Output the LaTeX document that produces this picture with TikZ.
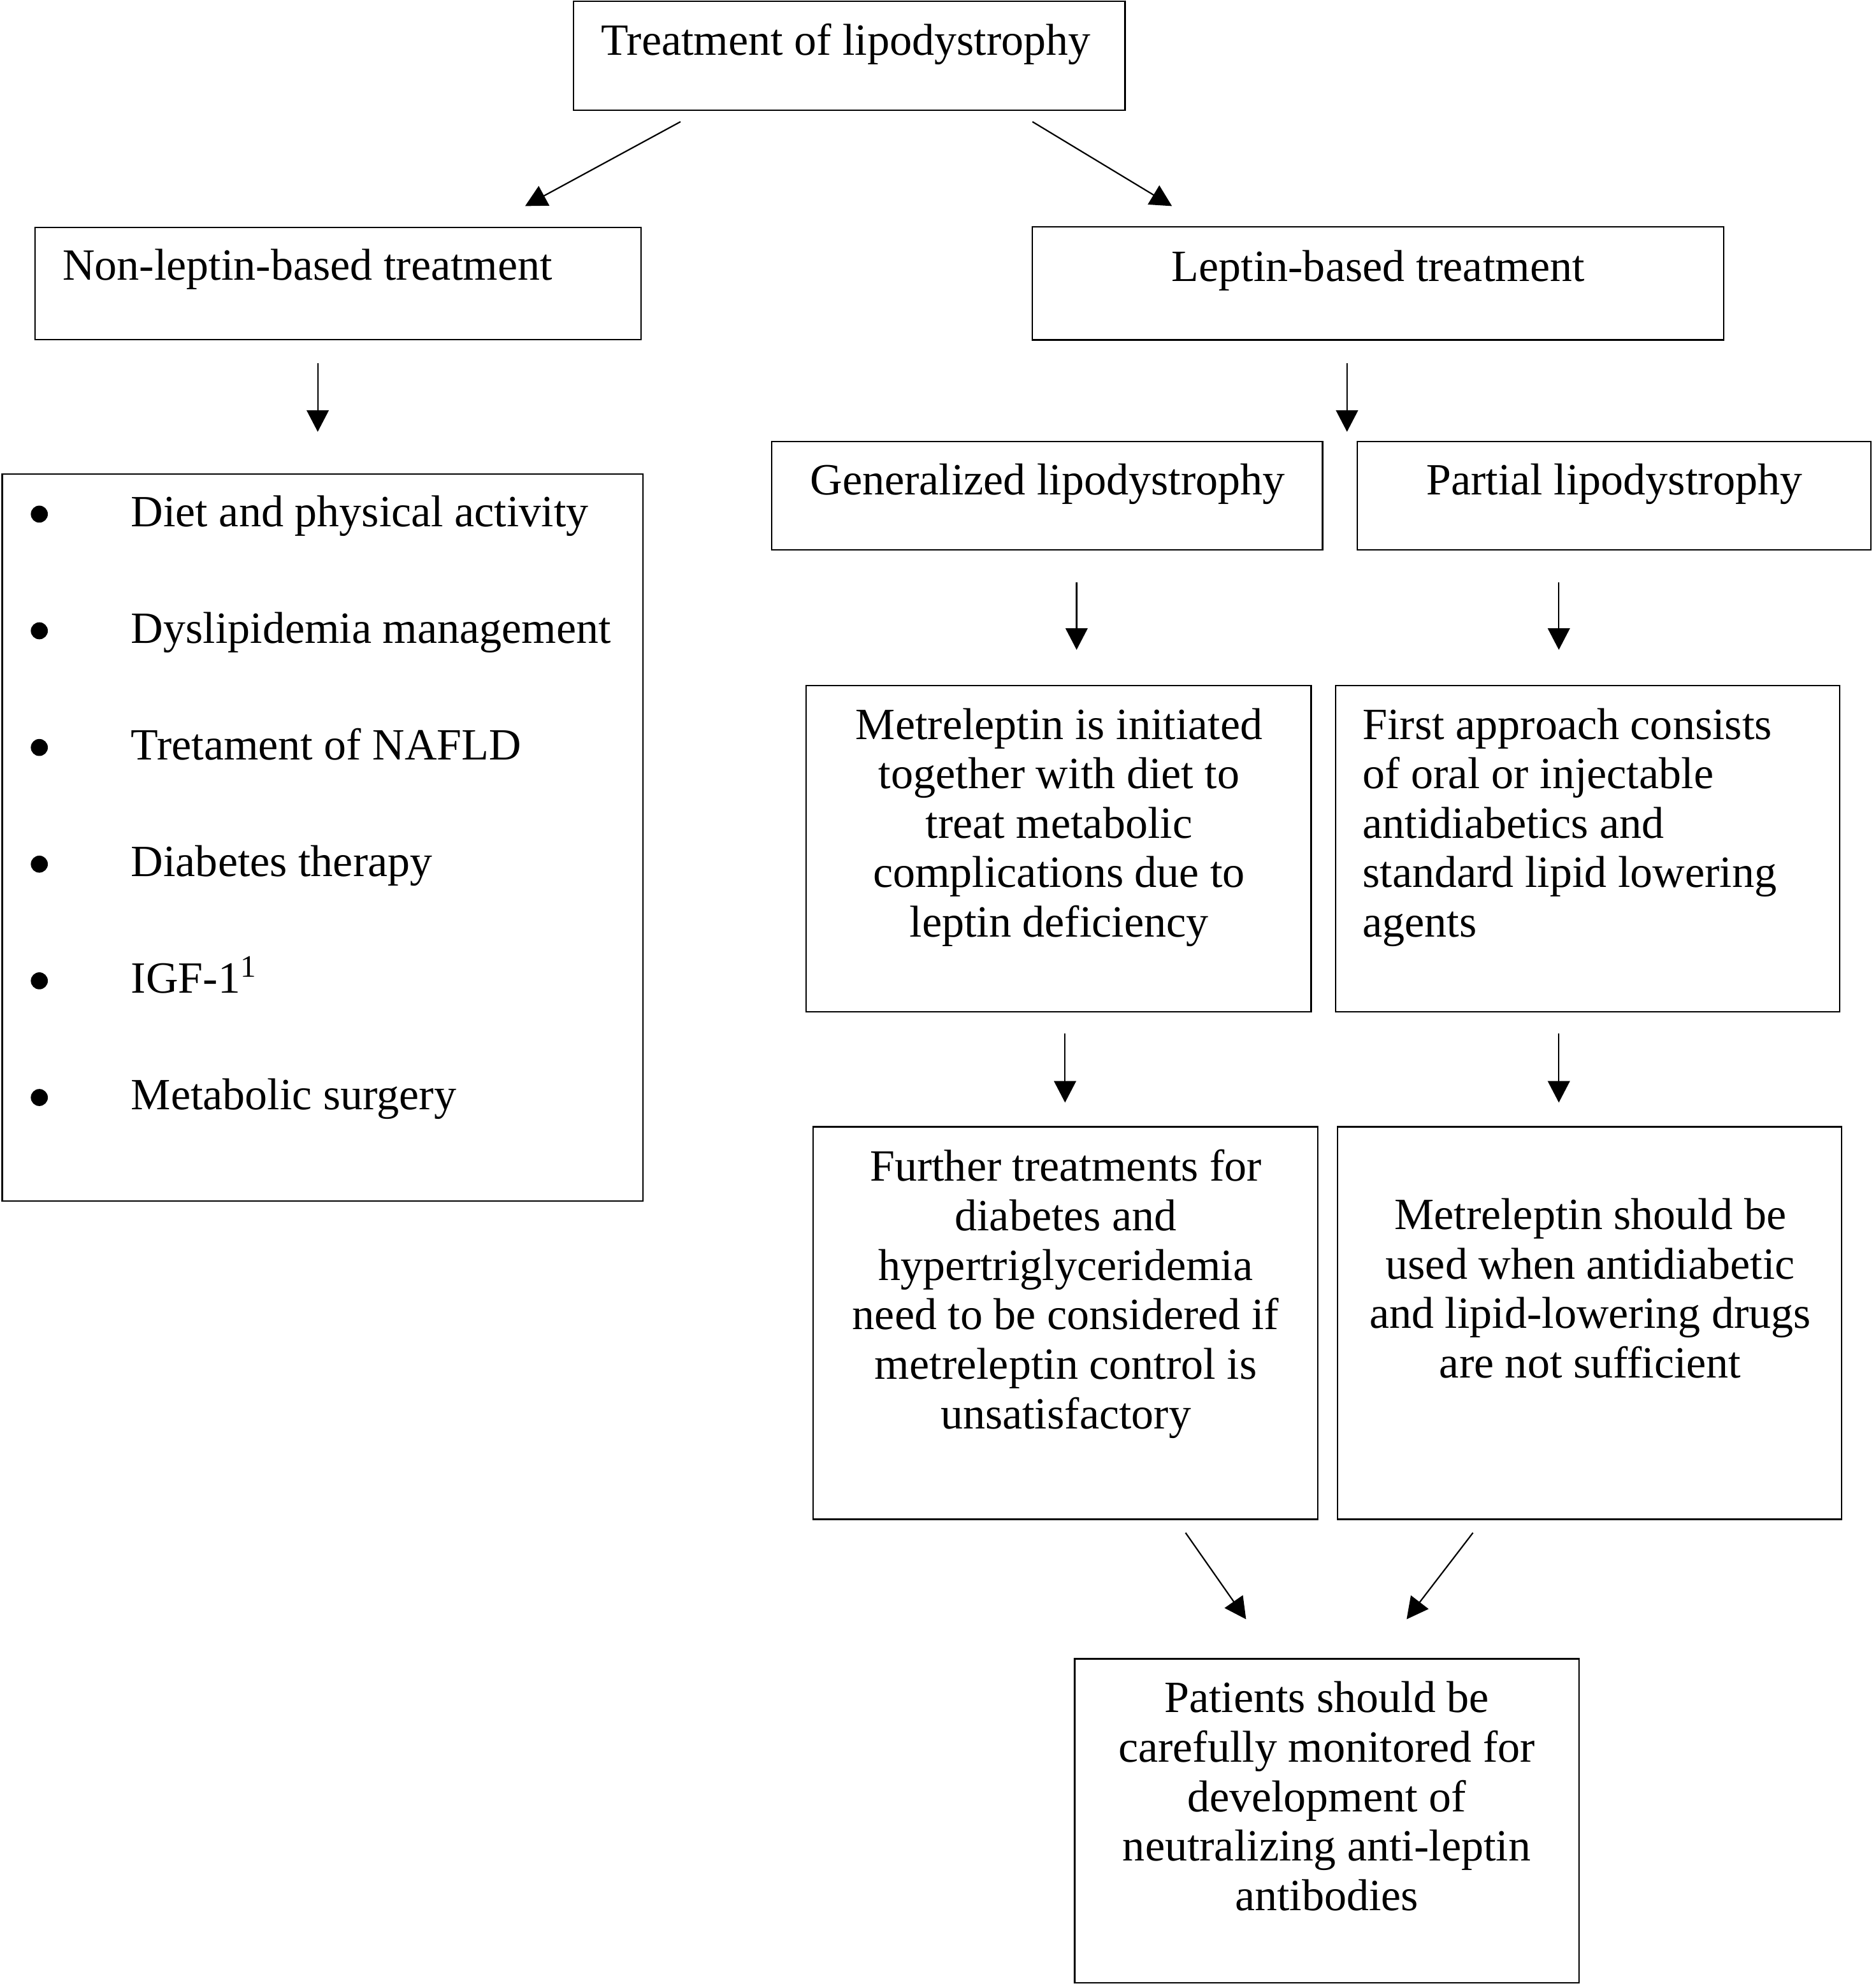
\documentclass[tikz,border=0pt]{standalone}
\usepackage{fontspec}
\setmainfont{Liberation Serif}
\usetikzlibrary{arrows.meta}
\newcommand{\fstrut}{\rule{0pt}{14pt}}
\begin{document}
\begin{tikzpicture}[x=0.5pt,y=-0.5pt,
  bx/.style 2 args={draw, line width=0.55pt, inner sep=0pt, minimum width=#1*0.5pt, minimum height=#2*0.5pt},
  txt/.style={inner sep=0pt, font=\fontsize{17.6}{19.5}\selectfont},
  ml/.style={txt, align=center, anchor=north},
  arr/.style={line width=0.55pt, -{Triangle[length=8.5pt,width=8.7pt]}},
  bul/.style={circle, fill=black, inner sep=0pt, minimum size=6.7pt}]
\useasboundingbox (0,0) rectangle (1479,1566);

% boxes
\node[bx={435}{86}] (top) at (669.5,44) {};
\node[bx={478}{88.7}] (nonlep) at (266.6,223.6) {};
\node[bx={545}{89}] (lep) at (1086.5,223.5) {};
\node[bx={505.2}{573.3}] (list) at (254.4,660.4) {};
\node[bx={434.1}{85.6}] (gen) at (825.65,390.8) {};
\node[bx={405}{85.6}] (part) at (1272.5,390.8) {};
\node[bx={398.3}{257}] (metrel) at (834.55,669.2) {};
\node[bx={397.4}{257}] (first) at (1251.6,669.2) {};
\node[bx={398}{309.5}] (further) at (840,1043.25) {};
\node[bx={397.5}{309.5}] (should) at (1253.25,1043.25) {};
\node[bx={397.5}{255.5}] (patients) at (1046,1435.75) {};

% texts
\node[txt, anchor=base] (ttop) at (667,43.3) {Treatment of lipodystrophy};
\node[txt, anchor=base west] (tnonlep) at (49,221) {Non-leptin-based treatment};
\node[txt, anchor=base] (tlep) at (1086.5,221.6) {Leptin-based treatment};
\node[txt, anchor=base] (tgen) at (826,390) {Generalized lipodystrophy};
\node[txt, anchor=base] (tpart) at (1272.7,390) {Partial lipodystrophy};

\foreach \i/\t in {0/Diet and physical activity,1/Dyslipidemia management,2/Tretament of NAFLD,3/Diabetes therapy,4/IGF-1\textsuperscript{1},5/Metabolic surgery}{
  \node[bul] (b\i) at (31,405.4+92*\i) {};
  \node[txt, anchor=base west] (l\i) at (103,415+92*\i) {\t};
}

\node[ml] (tmetrel) at (835,554.4) {\fstrut Metreleptin is initiated\\together with diet to\\treat metabolic\\complications due to\\leptin deficiency};
\node[ml, align=left, anchor=north west] (tfirst) at (1074,554.4) {\fstrut First approach consists\\of oral or injectable\\antidiabetics and\\standard lipid lowering\\agents};
\node[ml] (tfurther) at (840.3,903) {\fstrut Further treatments for\\diabetes and\\hypertriglyceridemia\\need to be considered if\\metreleptin control is\\unsatisfactory};
\node[ml] (tshould) at (1253.8,941.1) {\fstrut Metreleptin should be\\used when antidiabetic\\and lipid-lowering drugs\\are not sufficient};
\node[ml] (tpatients) at (1046,1322) {\fstrut Patients should be\\carefully monitored for\\development of\\neutralizing anti-leptin\\antibodies};

% arrow end points
\coordinate (a1s) at (536.5,96);   \coordinate (a1e) at (414,162.5);
\coordinate (a2s) at (814,96);     \coordinate (a2e) at (924,162.5);
\coordinate (a3s) at (250.5,286.5);  \coordinate (a3e) at (250.5,340.5);
\coordinate (a4s) at (1062,286.5); \coordinate (a4e) at (1062,340.5);
\coordinate (a5s) at (848.8,459);  \coordinate (a5e) at (848.8,512.4);
\coordinate (a6s) at (1229,459);   \coordinate (a6e) at (1229,512.4);
\coordinate (a7s) at (839.7,815);  \coordinate (a7e) at (839.7,869.4);
\coordinate (a8s) at (1229,815);   \coordinate (a8e) at (1229,869.4);
\coordinate (a9s) at (934.7,1208.6);  \coordinate (a9e) at (982.4,1276.8);
\coordinate (a10s) at (1161.3,1208.6); \coordinate (a10e) at (1109,1276.8);

\foreach \k in {1,...,10}{
  \draw[arr] (a\k s) -- (a\k e);
}
\end{tikzpicture}
\end{document}
